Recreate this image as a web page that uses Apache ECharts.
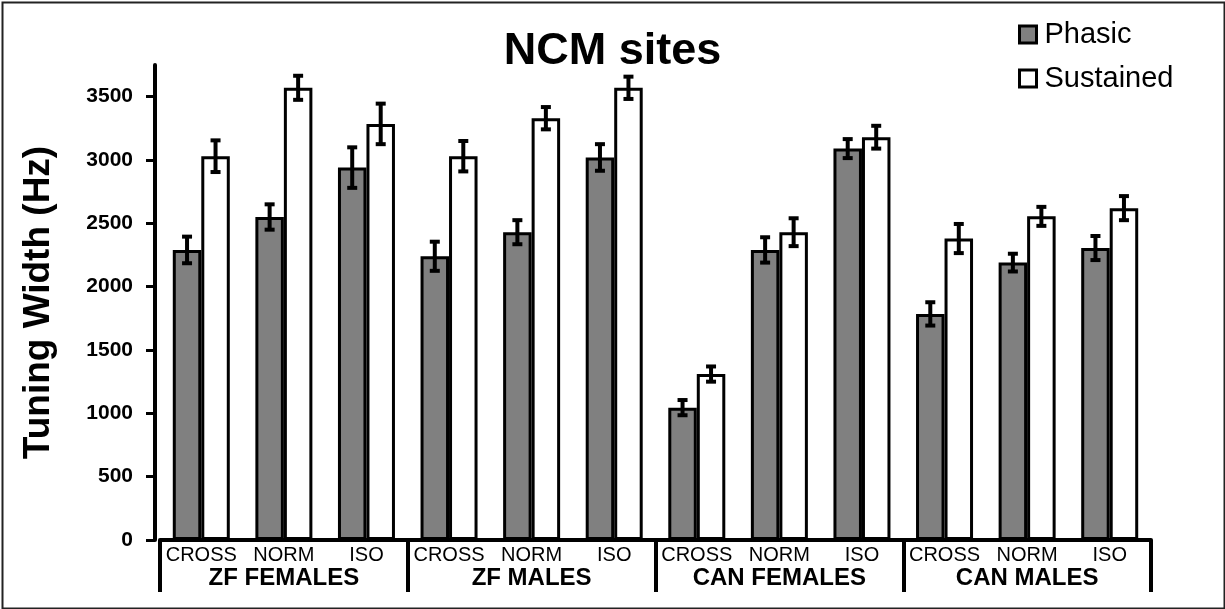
<!DOCTYPE html>
<html>
<head>
<meta charset="utf-8">
<script src="https://cdn.jsdelivr.net/npm/echarts@6/dist/echarts.min.js"></script>
<style>
  html, body { margin: 0; padding: 0; background: #fff; }
  #chart { width: 1225px; height: 609px; }
</style>
</head>
<body>
<div id="chart"></div>
<script>
// Tuning widths of NCM sites, phasic vs sustained responses (mean ± SEM)
const categories = ['CROSS', 'NORM', 'ISO', 'CROSS', 'NORM', 'ISO',
                    'CROSS', 'NORM', 'ISO', 'CROSS', 'NORM', 'ISO'];
const groups = ['ZF FEMALES', 'ZF MALES', 'CAN FEMALES', 'CAN MALES'];
const phasic       = [2290, 2550, 2940, 2240, 2430, 3020, 1045, 2290, 3090, 1785, 2190, 2305];
const phasicErr    = [ 105,  100,  160,  115,   95,  105,   60,  100,   75,   92,   70,   95];
const sustained    = [3030, 3570, 3285, 3030, 3330, 3570, 1310, 2430, 3180, 2380, 2555, 2620];
const sustainedErr = [ 125,   95,  160,  120,   88,   88,   60,  110,   90,  115,   75,   95];
const yTicks = [0, 500, 1000, 1500, 2000, 2500, 3000, 3500];

const FONT = '"Liberation Sans", Arial, Helvetica, sans-serif';
const BAR_W = 28.5;

function errorBars(means, errs, side) {
  return {
    type: 'custom',
    xAxisIndex: 0,
    yAxisIndex: 0,
    z: 10,
    silent: true,
    data: means.map((m, i) => [i, m, errs[i]]),
    encode: { x: 0, y: 1 },
    renderItem: function (params, api) {
      const idx = api.value(0);
      const m = api.value(1);
      const e = api.value(2);
      const top = api.coord([idx, m + e]);
      const bot = api.coord([idx, m - e]);
      const x = top[0] + side * BAR_W / 2;
      const capHalf = 5;
      const style = { stroke: '#000', lineWidth: 4 };
      return {
        type: 'group',
        children: [
          { type: 'line', shape: { x1: x, y1: top[1], x2: x, y2: bot[1] }, style: style },
          { type: 'line', shape: { x1: x - capHalf, y1: top[1], x2: x + capHalf, y2: top[1] }, style: style },
          { type: 'line', shape: { x1: x - capHalf, y1: bot[1], x2: x + capHalf, y2: bot[1] }, style: style }
        ]
      };
    }
  };
}

const chart = echarts.init(document.getElementById('chart'), null, { renderer: 'canvas' });

chart.setOption({
  backgroundColor: '#fff',
  animation: false,
  title: {
    text: 'NCM sites',
    left: 'center',
    top: 24,
    textStyle: { fontFamily: FONT, fontSize: 45, fontWeight: 'bold', color: '#000' }
  },
  legend: {
    orient: 'vertical',
    left: 1013,
    top: 15,
    itemWidth: 17,
    itemHeight: 17,
    itemGap: 15,
    icon: 'rect',
    data: ['Phasic', 'Sustained'],
    itemStyle: { borderColor: '#000', borderWidth: 3 },
    textStyle: { fontFamily: FONT, fontSize: 29, color: '#000', padding: [0, 0, 0, 3] }
  },
  grid: { left: 160, right: 74, top: 65, bottom: 69, containLabel: false },
  xAxis: [
    {
      type: 'category',
      position: 'bottom',
      data: categories,
      axisLine: { lineStyle: { color: '#000', width: 4 } },
      axisTick: { show: false },
      axisLabel: { interval: 0, margin: 5, fontFamily: FONT, fontSize: 20, color: '#000' }
    },
    {
      type: 'category',
      position: 'bottom',
      data: groups,
      axisLine: { show: false },
      axisTick: { show: true, interval: 0, length: 52, lineStyle: { color: '#000', width: 4 } },
      axisLabel: { interval: 0, margin: 26, fontFamily: FONT, fontSize: 24, fontWeight: 'bold', color: '#000' }
    }
  ],
  yAxis: {
    type: 'value',
    min: 0,
    max: 3750,
    interval: 500,
    offset: 5,
    name: 'Tuning Width (Hz)',
    nameLocation: 'middle',
    nameRotate: 90,
    nameGap: 98,
    nameTextStyle: { fontFamily: FONT, fontSize: 37, fontWeight: 'bold', color: '#000' },
    axisLine: { show: true, lineStyle: { color: '#000', width: 4 } },
    axisTick: { show: true, length: 9, customValues: yTicks, lineStyle: { color: '#000', width: 3 } },
    axisLabel: {
      margin: 22,
      customValues: yTicks,
      formatter: v => String(v),
      fontFamily: FONT, fontSize: 21, fontWeight: 'bold', color: '#000'
    },
    splitLine: { show: false }
  },
  series: [
    {
      name: 'Phasic',
      type: 'bar',
      xAxisIndex: 0,
      data: phasic,
      barWidth: BAR_W,
      barGap: '0%',
      itemStyle: { color: '#808080', borderColor: '#000', borderWidth: 3 }
    },
    {
      name: 'Sustained',
      type: 'bar',
      xAxisIndex: 0,
      data: sustained,
      barWidth: BAR_W,
      barGap: '0%',
      itemStyle: { color: '#fff', borderColor: '#000', borderWidth: 3 }
    },
    errorBars(phasic, phasicErr, -1),
    errorBars(sustained, sustainedErr, 1)
  ],
  graphic: [
    {
      type: 'rect',
      left: 0,
      top: 0,
      shape: { x: 1, y: 1, width: 1222, height: 606 },
      style: { fill: 'none', stroke: '#222', lineWidth: 2 },
      silent: true
    }
  ]
});
</script>
</body>
</html>
